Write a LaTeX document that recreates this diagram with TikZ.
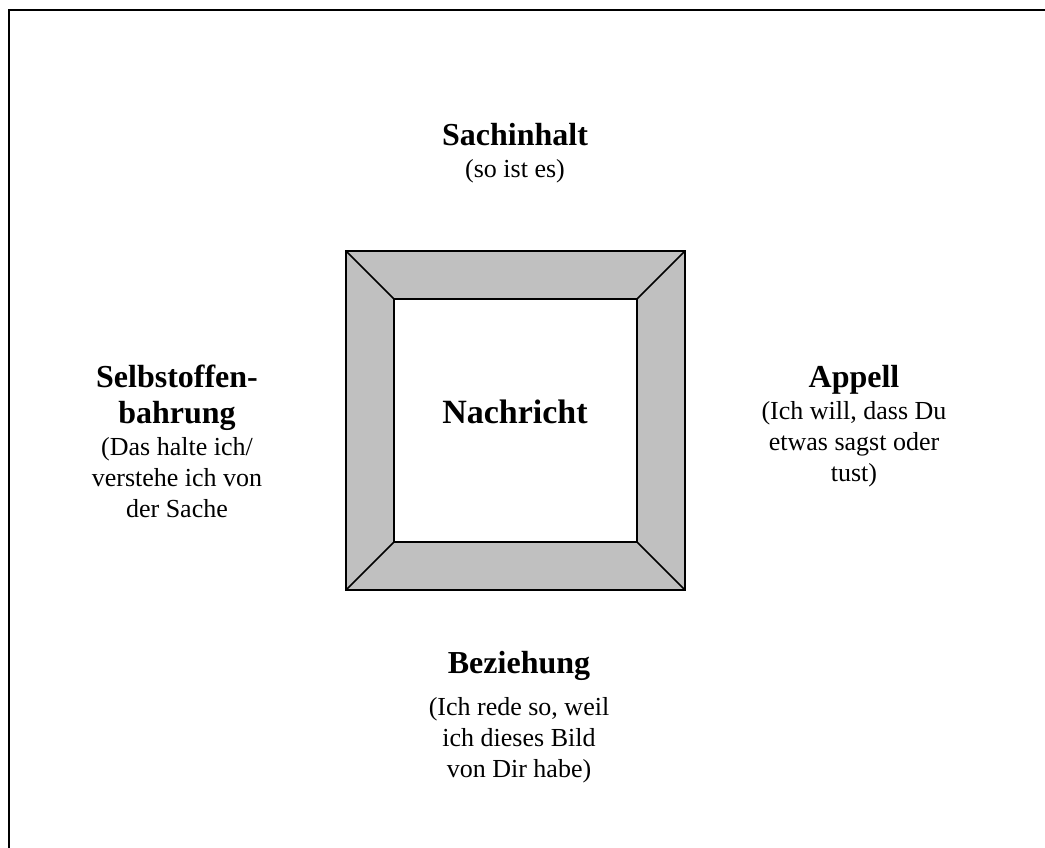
\documentclass[tikz,border=0pt]{standalone}
\usepackage{fontspec}
\setmainfont{Liberation Serif}
\usepackage{tikz}
\definecolor{rahmengrau}{RGB}{192,192,192}

\begin{document}
\begin{tikzpicture}[x=0.75pt, y=-0.75pt,
    titel/.style={font=\fontsize{24}{27}\selectfont\bfseries, align=center, inner sep=0pt, anchor=base},
    erkl/.style={font=\fontsize{19.5}{23.25}\selectfont, align=center, inner sep=0pt, anchor=base},
    rahmen/.style={draw=black, line width=1.1pt, fill=rahmengrau}]
  \useasboundingbox (0,0) rectangle (1045,848);
  % outer frame
  \draw[line width=1.6pt] (9,848) -- (9,10) -- (1045,10);
  % square
  \coordinate (A) at (346,251);
  \coordinate (B) at (685,251);
  \coordinate (C) at (685,590);
  \coordinate (D) at (346,590);
  \coordinate (a) at (394,299);
  \coordinate (b) at (637,299);
  \coordinate (c) at (637,542);
  \coordinate (d) at (394,542);
  \draw[rahmen] (A) -- (B) -- (C) -- (D) -- cycle;
  \draw[line width=1.1pt, fill=white] (a) -- (b) -- (c) -- (d) -- cycle;
  \draw[line width=1.1pt] (A) -- (a) (B) -- (b) (C) -- (c) (D) -- (d);
  \node[titel, font=\fontsize{25.5}{28}\selectfont\bfseries] (nachricht) at (515,423) {Nachricht};
  % the four sides (base = last line)
  \node[titel] (sach) at (515,146) {Sachinhalt};
  \node[erkl] (sacherkl) at (515,178) {(so ist es)};
  \node[titel] (selbst) at (177,423) {Selbstoffen-\\bahrung};
  \node[erkl] (selbsterkl) at (177,517) {(Das halte ich/\\verstehe ich von\\der Sache};
  \node[titel] (appell) at (854,387) {Appell};
  \node[erkl] (appellerkl) at (854,481) {(Ich will, dass Du\\etwas sagst oder\\tust)};
  \node[titel] (bez) at (519,673) {Beziehung};
  \node[erkl] (bezerkl) at (519,777) {(Ich rede so, weil\\ich dieses Bild\\von Dir habe)};
\end{tikzpicture}
\end{document}
